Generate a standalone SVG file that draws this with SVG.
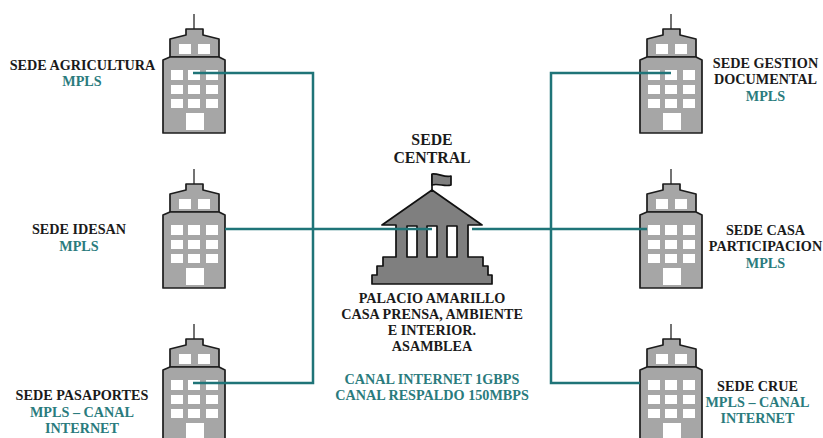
<svg xmlns="http://www.w3.org/2000/svg" width="823" height="438" viewBox="0 0 823 438">
<style>
text{font-family:"Liberation Serif","Times New Roman",serif;font-weight:bold;font-size:14.2px;text-anchor:middle;fill:#1a1a1a}
.t{fill:#2a7b7d}
.h{font-size:15.8px}
.b{fill:#a6a6a6;stroke:#1c1c1c;stroke-width:1.7;stroke-linejoin:round}
.w{fill:#fff}
.g{fill:#7f7f7f;stroke:#111;stroke-width:1.7;stroke-linejoin:round}
.c{fill:none;stroke:#1f7478;stroke-width:2.5}
</style>
<defs>
<g id="tower">
<path d="M194 14V29" fill="none" stroke="#444" stroke-width="1.5"/>
<path class="b" d="M186 35V29H203V35L219 39V57H170V39Z"/>
<path class="b" d="M170 57H219L225 60V133H163V60Z"/>
<path class="w" d="M179 44h12v10h-12zM198 44h12v10h-12zM171 70h12v10h-12zM188 70h12v10h-12zM206 70h12v10h-12zM171 85h12v9h-12zM188 85h12v9h-12zM206 85h12v9h-12zM171 99h12v9h-12zM188 99h12v9h-12zM206 99h12v9h-12zM186 113h18v17h-18z"/>
</g>
</defs>
<g id="sede-agricultura"><use href="#tower"/><text x="82.500" y="70">SEDE AGRICULTURA</text><text class="t" x="82" y="86">MPLS</text></g>
<g id="sede-idesan"><use href="#tower" y="155"/><text x="79" y="234">SEDE IDESAN</text><text class="t" x="79" y="251">MPLS</text></g>
<g id="sede-pasaportes"><use href="#tower" y="310"/><text x="82" y="400">SEDE PASAPORTES</text><text class="t" x="82" y="417">MPLS – CANAL</text><text class="t" x="82" y="433">INTERNET</text></g>
<g id="sede-gestion"><use href="#tower" x="477"/><text x="765.500" y="68">SEDE GESTION</text><text x="765.500" y="84">DOCUMENTAL</text><text class="t" x="765.500" y="101">MPLS</text></g>
<g id="sede-casa"><use href="#tower" x="477" y="155"/><text x="765.500" y="235">SEDE CASA</text><text x="765.500" y="251">PARTICIPACION</text><text class="t" x="765.500" y="268">MPLS</text></g>
<g id="sede-crue"><use href="#tower" x="477" y="310"/><text x="757.500" y="391">SEDE CRUE</text><text class="t" x="757.500" y="407">MPLS – CANAL</text><text class="t" x="757.500" y="423">INTERNET</text></g>
<g id="sede-central">
<path d="M432 190V174" stroke="#111" stroke-width="1.7" fill="none"/>
<path class="g" d="M432 174C438 173 445 178 451 176V185C445 187 438 183 432 185Z"/>
<path class="g" fill-rule="evenodd" d="M432 190L482 225H468V257H483V266H488V275H492V284H372V275H377V266H383V257H396V225H382ZM407 226V257H417V226ZM427 226V257H437V226ZM447 226V257H457V226Z"/>
<text class="h" x="432" y="145">SEDE</text><text class="h" x="432" y="162.500">CENTRAL</text>
<text x="432" y="303">PALACIO AMARILLO</text><text x="432" y="319">CASA PRENSA, AMBIENTE</text><text x="432" y="335">E INTERIOR.</text><text x="432" y="351">ASAMBLEA</text>
<text class="t" x="432" y="384">CANAL INTERNET 1GBPS</text><text class="t" x="432" y="400">CANAL RESPALDO 150MBPS</text>
</g>
<g id="connectors">
<path class="c" d="M193 73H313V383H193"/>
<path class="c" d="M225 229H432"/>
<path class="c" d="M472 229H647"/>
<path class="c" d="M671 73H551V383H640"/>
</g>
</svg>
